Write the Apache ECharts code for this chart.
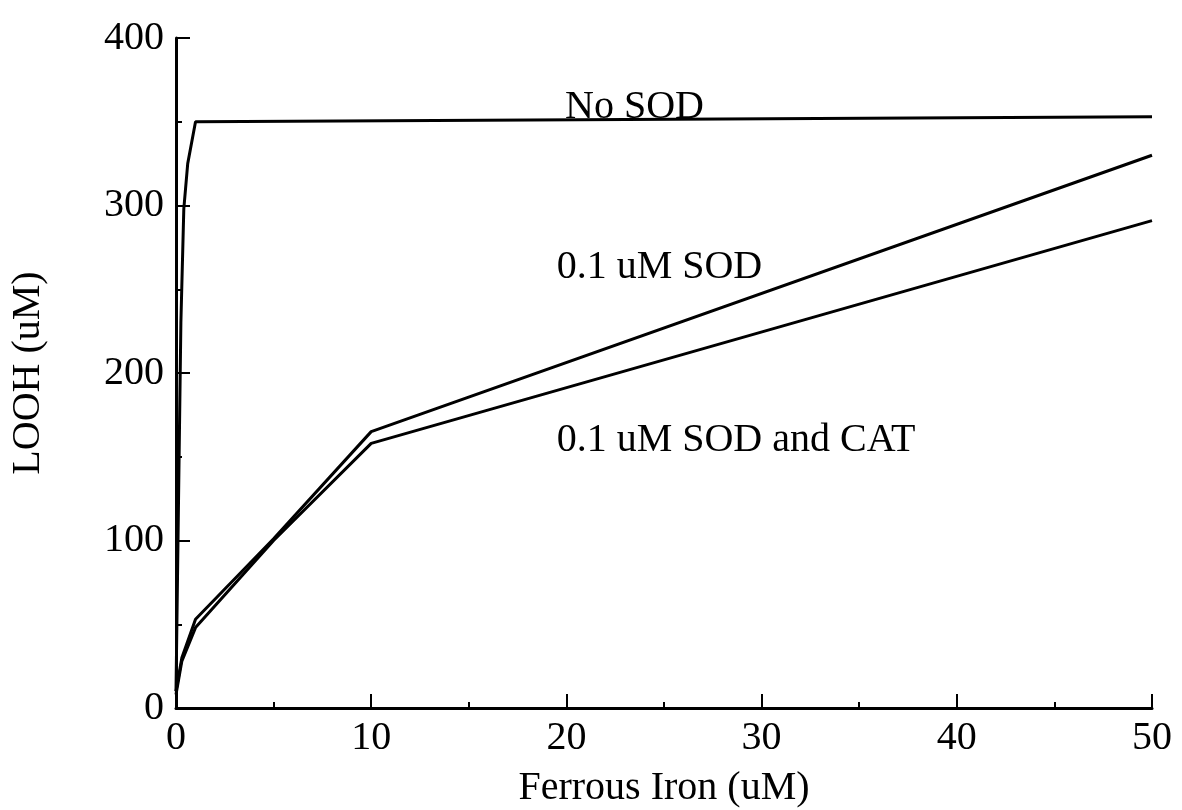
<!DOCTYPE html>
<html>
<head>
<meta charset="utf-8">
<script src="https://cdn.jsdelivr.net/npm/echarts@6/dist/echarts.min.js"></script>
<style>
html,body{margin:0;padding:0;background:#fff;}
#chart{width:1182px;height:810px;}
</style>
</head>
<body>
<div id="chart"></div>
<script>
// Data (x: Ferrous Iron uM, y: LOOH uM)
var noSOD = [[0, 10], [0.25, 230], [0.4, 298], [0.6, 325], [1, 350], [50, 353]];
var sod01 = [[0, 10], [0.3, 30], [1, 53], [5, 101], [10, 165], [50, 330]];
var sodCat = [[0, 8], [0.3, 28], [1, 48], [5, 100], [10, 158], [50, 291]];
var xTicks = [0, 10, 20, 30, 40, 50];
var yTicks = [0, 100, 200, 300, 400];
// Annotation labels (text, x, y in data units)
var annoText = ['No SOD', '0.1 uM SOD', '0.1 uM SOD and CAT'];
var annoX = [19.93, 19.5, 19.5];
var annoY = [358.5, 262.7, 160];

var FONT = 'Liberation Serif';
var chart = echarts.init(document.getElementById('chart'));

function annoPoints() {
  return annoText.map(function (t, i) {
    return {
      coord: [annoX[i], annoY[i]],
      symbol: 'circle', symbolSize: 0,
      label: {
        show: true, formatter: t, position: 'right', distance: 0,
        align: 'left', verticalAlign: 'middle',
        color: '#000', fontFamily: FONT, fontSize: 40
      }
    };
  });
}

var axisLabelStyle = {color: '#000', fontFamily: FONT, fontSize: 40};

chart.setOption({
  backgroundColor: '#fff',
  animation: false,
  grid: {left: 176, right: 30, top: 38, bottom: 102, containLabel: false, outerBoundsMode: 'none'},
  xAxis: {
    type: 'value', min: xTicks[0], max: xTicks[xTicks.length - 1], interval: 10,
    name: 'Ferrous Iron (uM)', nameLocation: 'middle', nameGap: 60,
    nameTextStyle: {color: '#000', fontFamily: FONT, fontSize: 40},
    axisLine: {show: true, lineStyle: {color: '#000', width: 3}},
    axisTick: {show: true, inside: true, length: 14, lineStyle: {color: '#000', width: 2}},
    minorTick: {show: true, splitNumber: 2, length: 6, lineStyle: {color: '#000', width: 2}},
    axisLabel: Object.assign({margin: 10}, axisLabelStyle),
    splitLine: {show: false}
  },
  yAxis: {
    type: 'value', min: yTicks[0], max: yTicks[yTicks.length - 1], interval: 100,
    name: 'LOOH (uM)', nameLocation: 'middle', nameGap: 128,
    nameTextStyle: {color: '#000', fontFamily: FONT, fontSize: 40},
    axisLine: {show: true, lineStyle: {color: '#000', width: 3}},
    axisTick: {show: true, inside: true, length: 14, lineStyle: {color: '#000', width: 2}},
    minorTick: {show: true, splitNumber: 2, length: 6, lineStyle: {color: '#000', width: 2}},
    axisLabel: Object.assign({margin: 12}, axisLabelStyle),
    splitLine: {show: false}
  },
  series: [
    {
      name: 'No SOD', type: 'line', data: noSOD, showSymbol: false, symbol: 'none',
      lineStyle: {color: '#000', width: 3},
      markPoint: {data: annoPoints(), animation: false}
    },
    {
      name: '0.1 uM SOD', type: 'line', data: sod01, showSymbol: false, symbol: 'none',
      lineStyle: {color: '#000', width: 3}
    },
    {
      name: '0.1 uM SOD and CAT', type: 'line', data: sodCat, showSymbol: false, symbol: 'none',
      lineStyle: {color: '#000', width: 3}
    }
  ]
});
</script>
</body>
</html>
